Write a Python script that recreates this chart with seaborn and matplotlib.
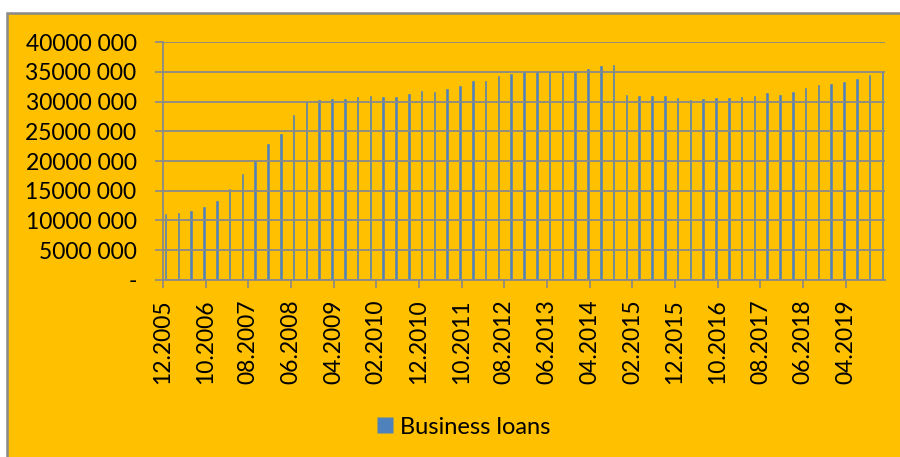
import matplotlib
matplotlib.use("Agg")
import matplotlib.pyplot as plt
from matplotlib.patches import Rectangle
from matplotlib.lines import Line2D
import seaborn as sns
import pandas as pd

# ---- data (quarterly, 12.2005 .. 12.2019) ----
series_name = "Business loans"
quarter_values = [
    11.07e6, 11.18e6, 11.52e6, 12.19e6, 13.20e6, 15.22e6, 17.87e6, 20.00e6,
    22.87e6, 24.49e6, 27.75e6, 29.94e6, 30.28e6, 30.45e6, 30.45e6, 30.79e6,
    30.96e6, 30.73e6, 30.84e6, 31.29e6, 31.74e6, 31.63e6, 32.13e6, 32.64e6,
    33.43e6, 33.43e6, 34.27e6, 34.66e6, 35.06e6, 34.94e6, 34.94e6, 35.06e6,
    35.00e6, 35.50e6, 36.00e6, 36.18e6, 31.12e6, 30.96e6, 30.96e6, 31.01e6,
    30.62e6, 30.22e6, 30.45e6, 30.62e6, 30.67e6, 30.84e6, 31.01e6, 31.52e6,
    31.18e6, 31.69e6, 32.30e6, 32.81e6, 32.98e6, 33.37e6, 33.82e6, 34.49e6,
    35.06e6,
]
y_ticks = [0, 5e6, 10e6, 15e6, 20e6, 25e6, 30e6, 35e6, 40e6]
y_tick_labels = ["-", "5000 000", "10000 000", "15000 000", "20000 000",
                 "25000 000", "30000 000", "35000 000", "40000 000"]

# monthly categories of the date axis: 12.2005 .. 12.2019
months = []
y, m = 2005, 12
while (y, m) <= (2019, 12):
    months.append(f"{m:02d}.{y}")
    m += 1
    if m > 12:
        m, y = 1, y + 1
quarter_months = months[::3]
x_tick_labels = months[::10]

df = pd.DataFrame({"month": quarter_months, "value": quarter_values,
                   "series": series_name})

# ---- styling ----
ORANGE = "#FFC000"
GREY = "#898989"
BLUE = "#4F81BD"

sns.set_style("white")
plt.rcParams["font.family"] = ["Lato", "DejaVu Sans"]
plt.rcParams["text.color"] = "black"
plt.rcParams["xtick.color"] = "black"
plt.rcParams["ytick.color"] = "black"

fig = plt.figure(figsize=(9, 4.57), dpi=100)
fig.patch.set_facecolor("white")
bg = Rectangle((7 / 900, -0.01), 1.0, 1 - 13 / 457 + 0.01,
               transform=fig.transFigure, facecolor=ORANGE,
               edgecolor=GREY, linewidth=1.8, zorder=-10)
fig.add_artist(bg)

ax = fig.add_axes([163 / 900, 1 - 279.7 / 457, 722 / 900, (279.7 - 42.3) / 457])
ax.set_facecolor("none")

sns.barplot(data=df, x="month", y="value", hue="series", order=months,
            palette=[BLUE], width=0.4, ax=ax, saturation=1, errorbar=None,
            edgecolor=BLUE, linewidth=0.4, legend=False)

ax.set_xlim(-0.6, 168.6)
ax.set_ylim(0, 40e6)
ax.set_yticks(y_ticks)
ax.set_yticklabels(y_tick_labels)
xt = [months.index(l) - 0.6 for l in x_tick_labels]
ax.set_xticks(xt)
ax.set_xticklabels(x_tick_labels, rotation=90)
ax.set_xlabel("")
ax.set_ylabel("")

ax.yaxis.grid(True, color=GREY, linewidth=1.3)
ax.xaxis.grid(False)
ax.set_axisbelow(False)
for s in ["top", "right"]:
    ax.spines[s].set_visible(False)
for s in ["left", "bottom"]:
    ax.spines[s].set_color(GREY)
    ax.spines[s].set_linewidth(1.3)

ax.tick_params(axis="y", direction="out", length=6, width=1.2, color=GREY,
               labelcolor="black", labelsize=16.5, pad=13, left=True)
ax.tick_params(axis="x", direction="out", length=6, width=1.2, color=GREY,
               labelcolor="black", labelsize=16.5, pad=8, bottom=True)

handle = Line2D([], [], linestyle="none", marker="s", markersize=11,
                markerfacecolor=BLUE, markeredgecolor="none", label=series_name)
leg = ax.legend(handles=[handle], loc="center", bbox_to_anchor=(0.515, 0.0656),
                bbox_transform=fig.transFigure, frameon=False, fontsize=17,
                handlelength=0.7, handletextpad=0.3)
for t in leg.get_texts():
    t.set_color("black")

fig.savefig("out.png", dpi=100)
